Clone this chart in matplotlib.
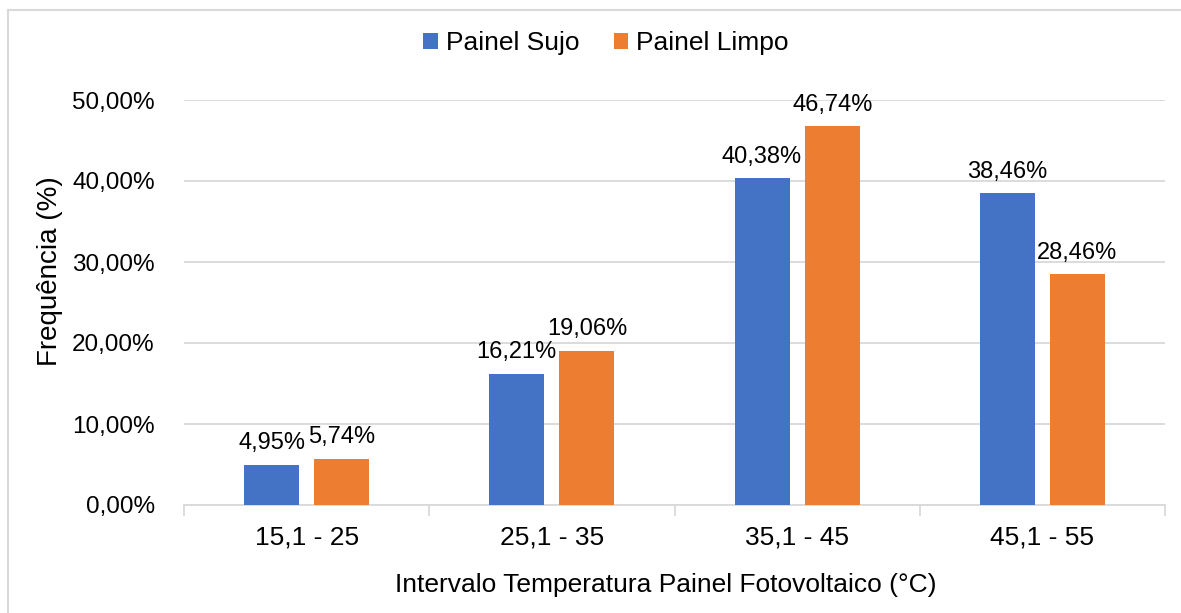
import matplotlib
matplotlib.use("Agg")
import matplotlib.pyplot as plt
from matplotlib.lines import Line2D
import numpy as np

categories = ["15,1 - 25", "25,1 - 35", "35,1 - 45", "45,1 - 55"]
series_names = ["Painel Sujo", "Painel Limpo"]
sujo = [4.95, 16.21, 40.38, 38.46]
limpo = [5.74, 19.06, 46.74, 28.46]
y_ticks = [0, 10, 20, 30, 40, 50]

colors = ["#4472C4", "#ED7D31"]
grid_color = "#D9D9D9"

plt.rcParams["font.family"] = ["Liberation Sans", "DejaVu Sans"]

W, H = 1181, 613
fig = plt.figure(figsize=(W / 100, H / 100), dpi=100)
ax = fig.add_axes([184 / W, 1 - 505 / H, (1165 - 184) / W, (505 - 100) / H])

x = np.arange(len(categories))
bw = 0.224
off = 0.143
for vals, dx, c, name in [(sujo, -off, colors[0], series_names[0]),
                          (limpo, off, colors[1], series_names[1])]:
    bars = ax.bar(x + dx, vals, width=bw, color=c, label=name, zorder=3)
    for b, v in zip(bars, vals):
        ax.annotate(f"{v:.2f}%".replace(".", ","),
                    (b.get_x() + b.get_width() / 2, v),
                    xytext=(0, 7.5), textcoords="offset points",
                    ha="center", va="bottom", fontsize=17, color="#000000",
                    annotation_clip=False)

ax.set_xlim(-0.5, len(categories) - 0.5)
ax.set_ylim(0, 50)
ax.set_yticks(y_ticks)
ax.set_yticklabels([f"{t:.2f}%".replace(".", ",") for t in y_ticks], fontsize=17.5)
ax.yaxis.grid(True, color=grid_color, linewidth=1.3, zorder=0)
ax.tick_params(axis="y", length=0, pad=21)

ax.set_xticks(x)
ax.set_xticklabels(categories, fontsize=19)
ax.tick_params(axis="x", length=0, pad=15)
# category boundary ticks on the horizontal axis
ax.set_xticks(np.arange(-0.5, len(categories), 1.0), minor=True)
ax.tick_params(axis="x", which="minor", length=8, color=grid_color, width=1.3)

for s in ["top", "right", "left"]:
    ax.spines[s].set_visible(False)
ax.spines["bottom"].set_color(grid_color)
ax.spines["bottom"].set_linewidth(1.3)

fig.text(50 / W, 1 - 271 / H, "Frequência (%)", rotation=90, fontsize=20,
         ha="center", va="center")
fig.text(666 / W, 1 - 585 / H, "Intervalo Temperatura Painel Fotovoltaico (°C)",
         fontsize=19, ha="center", va="center")

leg = fig.legend(loc="center", bbox_to_anchor=(606 / W, 1 - 43 / H), ncol=2,
                 frameon=False, fontsize=19, handlelength=0.55, handleheight=0.55,
                 handletextpad=0.3, columnspacing=1.3)

# outer chart border
fig.add_artist(Line2D([8 / W, 8 / W], [0, 1 - 10 / H], transform=fig.transFigure,
                      color=grid_color, linewidth=1.5))
fig.add_artist(Line2D([8 / W, 1], [1 - 10 / H, 1 - 10 / H], transform=fig.transFigure,
                      color=grid_color, linewidth=1.5))

fig.savefig("out.png", dpi=100, facecolor="white")
